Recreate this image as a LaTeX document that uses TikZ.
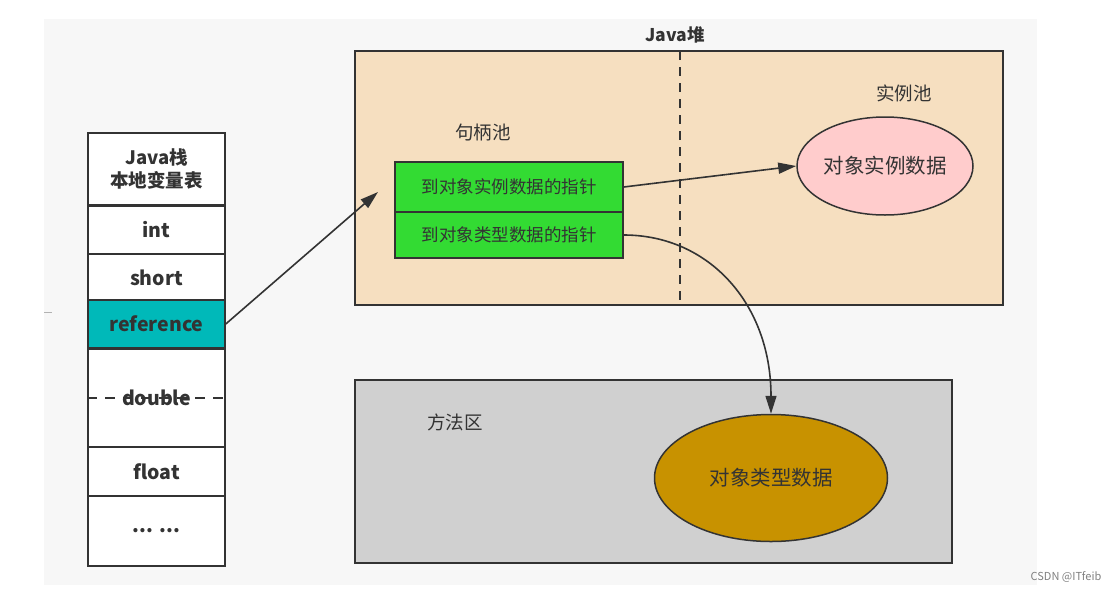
\documentclass[tikz,border=0pt]{standalone}
\usepackage{fontspec}
\setmainfont{Noto Sans CJK SC}
\usepackage{tikz}
\usetikzlibrary{arrows.meta,shapes.geometric}

\definecolor{panelbg}{HTML}{F7F7F7}
\definecolor{edge}{HTML}{333333}
\definecolor{heapfill}{HTML}{F6DFC0}
\definecolor{ptrfill}{HTML}{33DB33}
\definecolor{reffill}{HTML}{00B9B9}
\definecolor{instfill}{HTML}{FFCCCC}
\definecolor{typefill}{HTML}{C89200}
\definecolor{methfill}{HTML}{D0D0D0}

\begin{document}
\begin{tikzpicture}[x=1pt, y=-1pt]
    \tikzstyle{cell} = [rectangle, draw=edge, line width=1.5pt, fill=white, minimum width=137pt, inner sep=0pt, text=edge, font=\fontsize{19.5}{23}\selectfont\bfseries]
    \tikzstyle{area} = [rectangle, draw=edge, line width=1.5pt, inner sep=0pt]
    \tikzstyle{ptr} = [rectangle, draw=edge, line width=1.5pt, fill=ptrfill, minimum width=228pt, inner sep=0pt, text=edge, font=\fontsize{17.5}{19}\selectfont]
    \tikzstyle{blob} = [ellipse, draw=edge, line width=1.5pt, inner sep=0pt, text=edge, font=\fontsize{20.5}{22}\selectfont]
    \tikzstyle{lbl} = [text=edge, font=\fontsize{18.5}{20}\selectfont]
    \tikzstyle{arr} = [draw=edge, line width=1.6pt, -{Triangle[length=18pt, width=11pt]}]

    \useasboundingbox (0,0) rectangle (1117,590);
    \fill[panelbg] (44,19) rectangle (1037,585);
    \draw[gray!60, line width=1pt] (44,312) -- (52,312);

    % java stack
    \node[cell, minimum height=72pt, align=center, font=\fontsize{18.5}{23}\selectfont\bfseries] (title) at (156.5,169) {Java栈\\本地变量表};
    \foreach \n/\yc/\h/\t in {int/230/48/int, short/277.5/47/short, double/398/98/double, flt/472/50/float} {
        \node[cell, minimum height=\h pt] (\n) at (156.5,\yc) {\t};
    }
    \node[cell, minimum height=48pt, fill=reffill] (ref) at (156.5,324) {reference};
    \node[cell, minimum height=70pt] (more) at (156.5,531) {... ...};
    \draw[edge, line width=1.5pt, dash pattern=on 10pt off 8pt] (double.west) -- (double.east);

    % java heap
    \node[area, fill=heapfill, minimum width=648pt, minimum height=254pt] (heap) at (679,178) {};
    \node[lbl, font=\fontsize{17.5}{19}\selectfont\bfseries] (heaptitle) at (675,35) {Java堆};
    \draw[edge, line width=1.5pt, dashed, dash pattern=on 9pt off 7pt] (680,51) -- (680,305);
    \node[lbl] (handlepool) at (483,133) {句柄池};
    \node[lbl] (instpool) at (904,93) {实例池};
    \node[ptr, minimum height=50pt] (ptrinst) at (509,187) {到对象实例数据的指针};
    \node[ptr, minimum height=46pt] (ptrtype) at (509,235) {到对象类型数据的指针};
    \node[blob, fill=instfill, minimum width=176pt, minimum height=98pt] (instdata) at (885,166) {对象实例数据};

    % method area
    \node[area, fill=methfill, minimum width=597pt, minimum height=183pt] (method) at (653.5,471.5) {};
    \node[lbl] (methtitle) at (455,422) {方法区};
    \node[blob, fill=typefill, minimum width=233pt, minimum height=127pt] (typedata) at (771,478) {对象类型数据};

    \coordinate (refend) at (378,192);
    \draw[arr] (ref.east) -- (refend);
    \draw[arr] (ptrinst.east) -- (instdata.west);
    \draw[arr] (ptrtype.east) .. controls +(85,0) and +(0,-110) .. (typedata.north);

    \node[text=gray, font=\fontsize{11}{12}\selectfont] (mark) at (1066,577) {CSDN @ITfeib};
\end{tikzpicture}
\end{document}
